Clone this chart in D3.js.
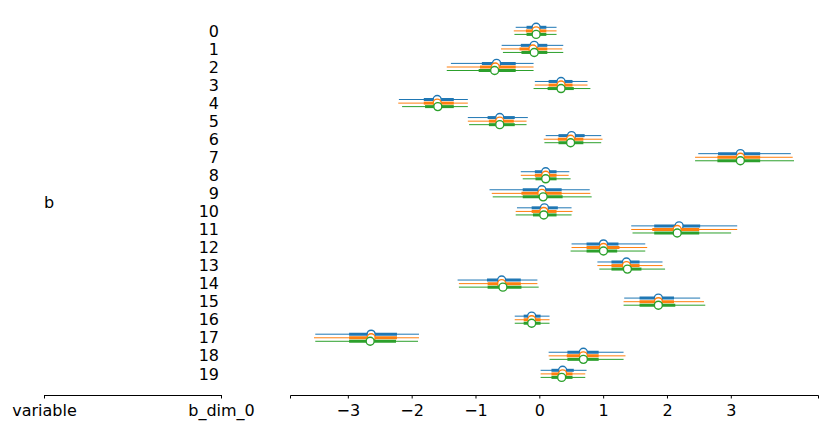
<!DOCTYPE html>
<html><head><meta charset="utf-8">
<script src="https://cdn.jsdelivr.net/npm/d3@7"></script>
<style>body{margin:0;background:#fff}svg{display:block}text{font-family:"DejaVu Sans",sans-serif;font-size:16px;fill:#000}</style>
</head><body><svg id="c" width="828" height="432"></svg>
<script>
const rowLabels = d3.range(20).map(String);
const chainColors = ["#1f77b4", "#ff7f0e", "#2ca02c"];
const xTicks = [-3, -2, -1, 0, 1, 2, 3];
// per chain: median, 50% HDI [low, high], 94% HDI [low, high]
const medianC0 = [-0.05,-0.08,-0.67,0.34,-1.60,-0.62,0.505,3.15,0.10,0.04,0.08,2.19,1.005,1.365,-0.59,1.865,-0.12,-2.635,0.69,0.365];
const medianC1 = [-0.05,-0.10,-0.69,0.34,-1.60,-0.62,0.49,3.15,0.10,0.04,0.07,2.16,1.005,1.365,-0.59,1.865,-0.12,-2.635,0.69,0.365];
const medianC2 = [-0.05,-0.08,-0.70,0.34,-1.59,-0.62,0.49,3.15,0.10,0.06,0.07,2.16,1.005,1.38,-0.57,1.865,-0.12,-2.65,0.69,0.35];
const hdi50C0 = [[-0.20,0.11],[-0.29,0.125],[-0.90,-0.37],[0.146,0.52],[-1.81,-1.34],[-0.81,-0.385],[0.30,0.71],[2.80,3.46],[-0.07,0.27],[-0.26,0.35],[-0.12,0.29],[1.80,2.52],[0.74,1.24],[1.13,1.57],[-0.82,-0.29],[1.57,2.11],[-0.245,0.02],[-2.98,-2.23],[0.44,0.93],[0.19,0.54]];
const hdi50C1 = [[-0.21,0.11],[-0.31,0.125],[-0.93,-0.37],[0.146,0.52],[-1.81,-1.34],[-0.79,-0.40],[0.29,0.69],[2.79,3.46],[-0.07,0.27],[-0.28,0.35],[-0.12,0.27],[1.77,2.505],[0.74,1.255],[1.13,1.57],[-0.81,-0.29],[1.57,2.11],[-0.245,0.02],[-2.98,-2.23],[0.43,0.93],[0.19,0.52]];
const hdi50C2 = [[-0.20,0.11],[-0.28,0.125],[-0.95,-0.37],[0.13,0.54],[-1.79,-1.34],[-0.79,-0.385],[0.30,0.69],[2.79,3.46],[-0.06,0.27],[-0.26,0.365],[-0.10,0.27],[1.80,2.505],[0.74,1.22],[1.13,1.60],[-0.81,-0.28],[1.57,2.13],[-0.245,0.02],[-2.98,-2.245],[0.44,0.93],[0.19,0.52]];
const hdi94C0 = [[-0.37,0.27],[-0.59,0.375],[-1.385,-0.09],[-0.07,0.755],[-2.20,-1.12],[-1.12,-0.18],[0.10,0.97],[2.49,3.94],[-0.29,0.47],[-0.78,0.79],[-0.35,0.505],[1.44,3.10],[0.505,1.66],[0.91,1.93],[-1.28,-0.03],[1.33,2.52],[-0.385,0.16],[-3.51,-1.885],[0.146,1.32],[0.02,0.74]];
const hdi94C1 = [[-0.40,0.27],[-0.60,0.36],[-1.45,-0.09],[-0.07,0.755],[-2.21,-1.12],[-1.12,-0.20],[0.07,0.99],[2.44,3.97],[-0.29,0.46],[-0.745,0.80],[-0.37,0.52],[1.44,3.10],[0.505,1.69],[0.91,1.93],[-1.26,-0.03],[1.32,2.58],[-0.385,0.16],[-3.53,-1.885],[0.146,1.35],[0.02,0.72]];
const hdi94C2 = [[-0.39,0.27],[-0.57,0.375],[-1.45,-0.09],[-0.09,0.80],[-2.15,-1.12],[-1.10,-0.20],[0.08,0.97],[2.44,3.99],[-0.26,0.49],[-0.73,0.82],[-0.37,0.505],[1.46,3.005],[0.49,1.66],[0.94,1.97],[-1.26,-0.01],[1.32,2.60],[-0.385,0.16],[-3.51,-1.90],[0.16,1.32],[0.02,0.72]];

const chains = [
  {med: medianC0, h50: hdi50C0, h94: hdi94C0},
  {med: medianC1, h50: hdi50C1, h94: hdi94C1},
  {med: medianC2, h50: hdi50C2, h94: hdi94C2}
];

const svg = d3.select("#c");
const allVals = chains.flatMap(c => c.h94.flat());
const lo = d3.min(allVals), hi = d3.max(allVals), pad = (hi - lo) * 0.05;
const x = d3.scaleLinear().domain([lo - pad, hi + pad]).range([290, 818]);
const y = d3.scaleLinear().domain([0, 19]).range([30.9, 373.9]);
const chainOff = [-3.6, 0, 3.5];

const g = svg.append("g");
chains.forEach((c, ci) => {
  const col = chainColors[ci];
  const cg = g.append("g");
  rowLabels.forEach((lab, i) => {
    const yy = y(i) + chainOff[ci];
    cg.append("line").attr("x1", x(c.h94[i][0])).attr("x2", x(c.h94[i][1]))
      .attr("y1", yy).attr("y2", yy).attr("stroke", col).attr("stroke-width", 1);
    cg.append("line").attr("x1", x(c.h50[i][0])).attr("x2", x(c.h50[i][1]))
      .attr("y1", yy).attr("y2", yy).attr("stroke", col).attr("stroke-width", 3);
    cg.append("circle").attr("cx", x(c.med[i])).attr("cy", yy).attr("r", 4)
      .attr("fill", "#fff").attr("stroke", col).attr("stroke-width", 1.4);
  });
});

const ax = svg.append("g").attr("transform", "translate(0,395)")
  .call(d3.axisBottom(x).tickValues(xTicks).tickSize(3.5).tickPadding(6)
    .tickFormat(d => d < 0 ? "\u2212" + Math.abs(d) : String(d)));
ax.select(".domain").attr("stroke", "#000").attr("stroke-width", 1);
ax.selectAll(".tick line").attr("stroke", "#000");
ax.selectAll("text").style("font-size", "16px").attr("font-family", "DejaVu Sans");

const lx = d3.scalePoint().domain(["variable", "b_dim_0"]).range([44, 221]);
const lax = svg.append("g").attr("transform", "translate(0,395)")
  .call(d3.axisBottom(lx).tickSize(3.5).tickSizeOuter(0).tickPadding(6));
lax.select(".domain").attr("stroke", "#000");
lax.selectAll("text").style("font-size", "16px").attr("font-family", "DejaVu Sans");

svg.append("text").attr("x", 44).attr("y", y(9.5)).attr("dy", "0.35em").text("b");
svg.selectAll("text.rl").data(rowLabels).enter().append("text").attr("class", "rl")
  .attr("x", 219).attr("y", (d, i) => y(i)).attr("dy", "0.35em")
  .attr("text-anchor", "end").text(d => d);
</script></body></html>
